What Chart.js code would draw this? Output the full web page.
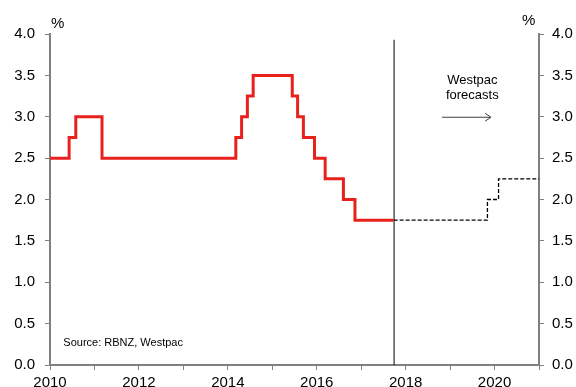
<!DOCTYPE html>
<html>
<head>
<meta charset="utf-8">
<script src="https://cdn.jsdelivr.net/npm/chart.js@4"></script>
<style>
  body { margin: 0; background: #fff; }
  #wrap { width: 576px; height: 387px; }
</style>
</head>
<body>
<div id="wrap"><canvas id="ocrChart" width="576" height="387"></canvas></div>
<script>
// Official cash rate, change dates (decimal years) and new level
const actualDates = [2010.0, 2010.43, 2010.58, 2011.17, 2014.18, 2014.31, 2014.44, 2014.57,
  2015.45, 2015.57, 2015.7, 2015.95, 2016.19, 2016.6, 2016.86, 2017.73];
const actualRates = [2.5, 2.75, 3.0, 2.5, 2.75, 3.0, 3.25, 3.5,
  3.25, 3.0, 2.75, 2.5, 2.25, 2.0, 1.75, 1.75];

// Westpac forecast path
const forecastDates = [2017.73, 2019.84, 2020.09, 2021.0];
const forecastRates = [1.75, 2.0, 2.25, 2.25];

// forecast start marker
const markerDate = 2017.74;
const markerRange = [0, 3.93];

const yearMin = 2010;
const yearMax = 2021;
const rateMin = 0;
const rateMax = 4;

const FONT = "'Liberation Sans', Arial, sans-serif";
const AXIS = "#808080";

const toPoints = (xs, ys) => xs.map((x, i) => ({ x: x, y: ys[i] }));

// text labels drawn in data space
const notes = {
  id: "notes",
  afterDraw(chart) {
    const ctx = chart.ctx;
    const xs = chart.scales.x;
    const ys = chart.scales.y;
    ctx.save();
    ctx.fillStyle = "#000";
    ctx.textBaseline = "middle";

    ctx.font = "15px " + FONT;
    ctx.textAlign = "left";
    ctx.fillText("%", 51, 24);
    ctx.fillText("%", 522, 21);

    ctx.font = "11px " + FONT;
    ctx.fillText("Source: RBNZ, Westpac", xs.getPixelForValue(2010.3), ys.getPixelForValue(0.27));

    ctx.font = "13px " + FONT;
    ctx.textAlign = "center";
    const cx = xs.getPixelForValue(2019.5);
    ctx.fillText("Westpac", cx, ys.getPixelForValue(3.44));
    ctx.fillText("forecasts", cx, ys.getPixelForValue(3.26));

    // arrow
    const ay = ys.getPixelForValue(3.0);
    const ax0 = xs.getPixelForValue(2018.82);
    const ax1 = xs.getPixelForValue(2019.92);
    ctx.strokeStyle = "#404040";
    ctx.lineWidth = 1;
    ctx.beginPath();
    ctx.moveTo(ax0, ay + 0.5);
    ctx.lineTo(ax1, ay + 0.5);
    ctx.moveTo(ax1 - 6, ay - 3.5);
    ctx.lineTo(ax1, ay + 0.5);
    ctx.lineTo(ax1 - 6, ay + 4.5);
    ctx.stroke();
    ctx.restore();
  }
};

new Chart(document.getElementById("ocrChart").getContext("2d"), {
  type: "line",
  data: {
    datasets: [
      {
        data: toPoints(actualDates, actualRates),
        borderColor: "#e8211d",
        borderWidth: 3,
        stepped: true,
        pointRadius: 0,
        fill: false
      },
      {
        data: toPoints(forecastDates, forecastRates),
        borderColor: "#000",
        borderWidth: 1.3,
        borderDash: [4, 2],
        stepped: true,
        pointRadius: 0,
        fill: false
      },
      {
        data: toPoints([markerDate, markerDate], markerRange),
        borderColor: "#000",
        borderWidth: 1,
        pointRadius: 0,
        fill: false
      }
    ]
  },
  options: {
    responsive: false,
    animation: false,
    layout: { padding: { top: 34, right: 0, bottom: 0, left: 0 } },
    plugins: { legend: { display: false }, tooltip: { enabled: false } },
    scales: {
      x: {
        type: "linear",
        min: yearMin,
        max: yearMax,
        afterFit: (s) => { s.height = 22; },
        border: { color: AXIS, width: 2 },
        grid: { drawOnChartArea: false, color: AXIS, tickLength: 5 },
        ticks: {
          stepSize: 1,
          autoSkip: false,
          maxRotation: 0,
          padding: 4,
          color: "#000",
          font: { family: FONT, size: 15 },
          callback: (v) => (v % 2 === 0 ? String(v) : "")
        }
      },
      y: {
        position: "left",
        min: rateMin,
        max: rateMax,
        afterFit: (s) => { s.width = 50; },
        border: { color: AXIS, width: 2 },
        grid: { drawOnChartArea: false, color: AXIS, tickLength: 5 },
        ticks: {
          stepSize: 0.5,
          padding: 10,
          color: "#000",
          font: { family: FONT, size: 15 },
          callback: (v) => v.toFixed(1)
        }
      },
      y2: {
        position: "right",
        min: rateMin,
        max: rateMax,
        afterFit: (s) => { s.width = 37; },
        border: { color: AXIS, width: 2 },
        grid: { drawOnChartArea: false, color: AXIS, tickLength: 5 },
        ticks: {
          stepSize: 0.5,
          padding: 8,
          color: "#000",
          font: { family: FONT, size: 15 },
          callback: (v) => v.toFixed(1)
        }
      }
    }
  },
  plugins: [notes]
});
</script>
</body>
</html>
